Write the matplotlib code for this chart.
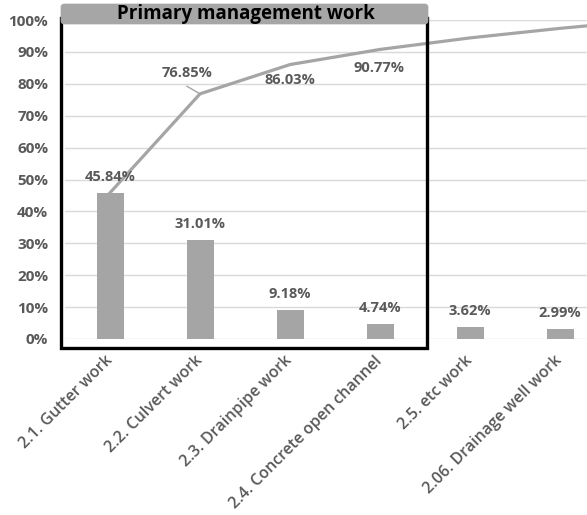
import numpy as np
import matplotlib
matplotlib.use("Agg")
import matplotlib.pyplot as plt
import matplotlib.transforms as mtransforms
from matplotlib.patches import Rectangle, FancyBboxPatch

# Share of each work item (%), sorted for a Pareto view
categories = ["2.1. Gutter work", "2.2. Culvert work", "2.3. Drainpipe work",
              "2.4. Concrete open channel", "2.5. etc work", "2.06. Drainage well work"]
shares = [45.84, 31.01, 9.18, 4.74, 3.62, 2.99]
# remaining share of minor items beyond the last listed category
remainder_share = [2.62]
cumulative_labels_idx = [1, 2, 3]

plt.rcParams["font.family"] = ["Open Sans", "DejaVu Sans"]

W, H = 587, 515
fig = plt.figure(figsize=(W / 100, H / 100), dpi=100)


def fx(px):
    return px / W


def fy(py):
    return 1 - py / H


ax_left, ax_right, ax_top, ax_bottom = 65, 587, 20, 339
ax = fig.add_axes([fx(ax_left), fy(ax_bottom), fx(ax_right - ax_left), fy(ax_top) - fy(ax_bottom)])

grey = "#A5A5A5"
text_grey = "#595959"

x = np.arange(len(categories))
vals = np.array(shares) / 100
all_shares = np.array(shares + remainder_share) / 100
cum = np.cumsum(all_shares)
xc = np.arange(len(all_shares))

ax.bar(x, vals, width=0.3, color=grey, zorder=3)
ax.plot(xc, cum, color=grey, lw=2.3, zorder=4, clip_on=True)

ax.set_xlim(-0.5, (ax_right - 110) / 90)
ax.set_ylim(0, 1.0)
ax.set_yticks(np.linspace(0, 1, 11))
ax.set_yticklabels([f"{int(round(v * 100))}%" for v in np.linspace(0, 1, 11)],
                   fontsize=11, fontweight="bold", color=text_grey)
ax.set_xticks(x)
ax.set_xticklabels(categories, rotation=45, ha="right", va="center",
                   rotation_mode="anchor", fontsize=11.5, fontweight="semibold",
                   color=text_grey)
shift = mtransforms.ScaledTranslation(3 / 100, 0, fig.dpi_scale_trans)
for lbl in ax.get_xticklabels():
    lbl.set_transform(lbl.get_transform() + shift)
ax.tick_params(axis="y", length=0, pad=12)
ax.tick_params(axis="x", length=0, pad=14)
ax.grid(axis="y", color="#D9D9D9", lw=1, zorder=0)
for s in ax.spines.values():
    s.set_visible(False)

# value labels above bars
for xi, v, s in zip(x, vals, shares):
    ax.annotate(f"{s:.2f}%", (xi, v), xytext=(0, 11.5), textcoords="offset points",
                ha="center", va="center", fontsize=10.5, fontweight="bold",
                color=text_grey, zorder=6)

# cumulative labels
cum_offsets = {1: (-9.5, 15), 2: (0, -11), 3: (-1, -13.5)}
for i in cumulative_labels_idx:
    dx, dy = cum_offsets[i]
    ax.annotate(f"{cum[i] * 100:.2f}%", (xc[i], cum[i]), xytext=(dx, dy),
                textcoords="offset points", ha="center", va="center",
                fontsize=10.5, fontweight="bold", color=text_grey, zorder=6)
# leader line for the second cumulative label
ax.annotate("", xy=(xc[1], cum[1]), xytext=(-9.5, 5.5), textcoords="offset points",
            arrowprops=dict(arrowstyle="-", color=grey, lw=1, shrinkA=0, shrinkB=0))

# highlight frame around the primary items
fig.add_artist(Rectangle((fx(61), fy(348)), fx(427 - 61), fy(18) - fy(348),
                         transform=fig.transFigure, fill=False, ec="black", lw=2.4, zorder=10))
fig.add_artist(FancyBboxPatch((fx(61), fy(24)), fx(428 - 61), fy(4) - fy(24),
                              boxstyle="round,pad=0,rounding_size=0.006",
                              transform=fig.transFigure, fc="#A6A6A6", ec="#A6A6A6", lw=0.5, zorder=11))
fig.text(fx(246), fy(14), "Primary management work", ha="center", va="center",
         fontsize=13.5, fontweight="bold", color="black", zorder=12)

fig.savefig("out.png", dpi=100)
